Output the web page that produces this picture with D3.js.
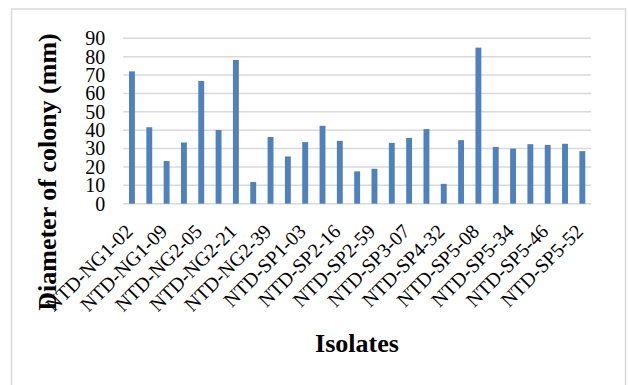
<!DOCTYPE html>
<html>
<head>
<meta charset="utf-8">
<script src="https://cdn.jsdelivr.net/npm/d3@7/dist/d3.min.js"></script>
<style>
  html, body { margin: 0; padding: 0; background: #fff; }
  svg { display: block; }
  svg text { font-family: "Liberation Serif", "Times New Roman", serif !important; fill: #000; }
</style>
</head>
<body>
<svg id="chart" width="628" height="385"></svg>
<script>
// Labels shown under every other bar (bars 0, 2, 4, ... 26)
const tickLabels = [
  "NTD-NG1-02", "NTD-NG1-09", "NTD-NG2-05", "NTD-NG2-21", "NTD-NG2-39",
  "NTD-SP1-03", "NTD-SP2-16", "NTD-SP2-59", "NTD-SP3-07", "NTD-SP4-32",
  "NTD-SP5-08", "NTD-SP5-34", "NTD-SP5-46", "NTD-SP5-52"
];
// Diameter of colony (mm), one value per isolate (27 bars)
const diameters = [
  72, 41.6, 23.2, 33.3, 66.8, 40.1, 78.2, 11.8, 36.3, 25.7,
  33.5, 42.4, 34.2, 17.6, 19.0, 33.1, 35.8, 40.6, 10.8, 34.6,
  84.9, 30.9, 30.0, 32.4, 32.0, 32.6, 28.6
];
const yTicks = [0, 10, 20, 30, 40, 50, 60, 70, 80, 90];

const serif = '"Liberation Serif", "Times New Roman", serif';
const svg = d3.select("#chart");
const plot = { left: 123.3, right: 591, top: 38.3, bottom: 203.7 };

// chart border
svg.append("rect")
  .attr("x", 11.5).attr("y", 9)
  .attr("width", 614).attr("height", 420)
  .attr("fill", "none").attr("stroke", "#d9d9d9").attr("stroke-width", 1.5);

const x = d3.scaleBand()
  .domain(d3.range(diameters.length))
  .range([plot.left, plot.right])
  .paddingInner(0.66).paddingOuter(0.33);

const y = d3.scaleLinear().domain([0, 90]).range([plot.bottom, plot.top]);

// gridlines
svg.append("g").selectAll("line").data(yTicks).join("line")
  .attr("x1", plot.left).attr("x2", plot.right)
  .attr("y1", d => y(d)).attr("y2", d => y(d))
  .attr("stroke", "#d9d9d9").attr("stroke-width", 1.5);

// bars
svg.append("g").selectAll("rect").data(diameters).join("rect")
  .attr("x", (d, i) => x(i))
  .attr("width", x.bandwidth())
  .attr("y", d => y(d))
  .attr("height", d => y(0) - y(d))
  .attr("fill", "#4f81bd");

// y axis
const yAxis = svg.append("g")
  .attr("transform", `translate(${plot.left},0)`)
  .call(d3.axisLeft(y).tickValues(yTicks).tickSize(0).tickPadding(18));
yAxis.attr("font-family", serif).attr("font-size", 20);
yAxis.select(".domain").remove();
yAxis.selectAll("text").attr("fill", "#000");

// x axis
const xAxis = svg.append("g")
  .attr("transform", `translate(0,${plot.bottom})`)
  .call(d3.axisBottom(x)
    .tickValues(d3.range(0, diameters.length, 2))
    .tickFormat(i => tickLabels[i / 2])
    .tickSize(0));
xAxis.attr("font-family", serif).attr("font-size", 20);
xAxis.select(".domain").remove();
xAxis.selectAll("text")
  .attr("fill", "#000")
  .attr("text-anchor", "end")
  .attr("dy", null)
  .attr("y", null)
  .attr("transform", "translate(2,29) rotate(-45)");

// axis titles
svg.append("text")
  .attr("transform", "translate(56,172) rotate(-90)")
  .attr("text-anchor", "middle")
  .attr("font-size", 26).attr("font-weight", "bold")
  .text("Diameter of colony (mm)");

svg.append("text")
  .attr("x", 357).attr("y", 352)
  .attr("text-anchor", "middle")
  .attr("font-size", 26).attr("font-weight", "bold")
  .text("Isolates");
</script>
</body>
</html>
